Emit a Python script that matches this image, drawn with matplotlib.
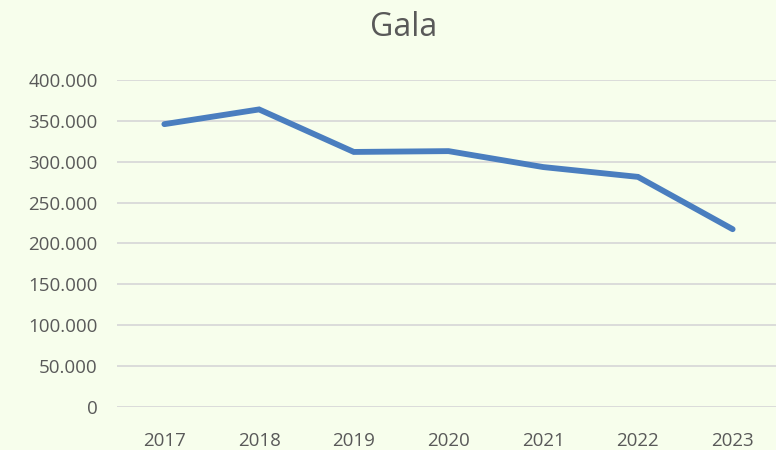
import matplotlib
matplotlib.use('Agg')
import matplotlib.pyplot as plt
from matplotlib.ticker import FuncFormatter

plt.rcParams['font.family'] = ['Open Sans', 'DejaVu Sans']

# data
years = ['2017', '2018', '2019', '2020', '2021', '2022', '2023']
values = [346000, 364000, 312000, 313000, 293500, 281500, 217500]

BG = '#F7FEEC'
LINE = '#4A7EBF'
TXT = '#595959'
GRID = '#D9D9D9'

fig = plt.figure(figsize=(7.76, 4.5), dpi=100, facecolor=BG)
ax = fig.add_axes([117 / 776, (450 - 407) / 450, (780 - 117) / 776, (407 - 80) / 450])
ax.set_facecolor(BG)

x = list(range(len(years)))
ax.plot(x, values, color=LINE, lw=4.2, solid_capstyle='round', solid_joinstyle='miter')

ax.set_xlim(-0.5, len(years) - 0.5)
ax.set_ylim(0, 400000)
ax.set_yticks(range(0, 400001, 50000))
ax.yaxis.set_major_formatter(FuncFormatter(
    lambda v, _: '0' if v == 0 else f'{int(v):,}'.replace(',', '.')))
ax.set_xticks(x)
ax.set_xticklabels(years)

ax.grid(axis='y', color=GRID, lw=1.3)
ax.set_axisbelow(True)
for s in ax.spines.values():
    s.set_visible(False)
ax.tick_params(length=0, labelsize=13.5, colors=TXT)
ax.tick_params(axis='y', pad=14)
ax.tick_params(axis='x', pad=18)

fig.text(404 / 776, 1 - 27 / 450, 'Gala', ha='center', va='center', fontsize=23, color=TXT)

fig.savefig('out.png', dpi=100, facecolor=BG)
